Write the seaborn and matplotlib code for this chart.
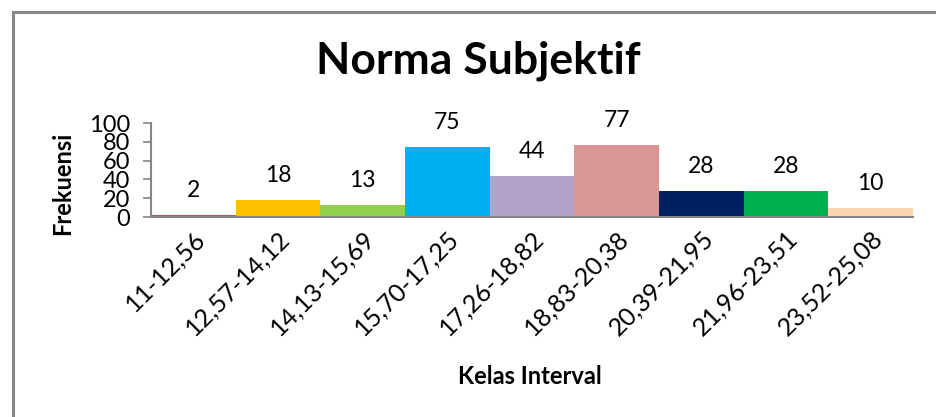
import matplotlib
matplotlib.use("Agg")
import matplotlib.pyplot as plt
import seaborn as sns
import pandas as pd
from matplotlib.patches import Rectangle

# data
kelas = ["11-12,56", "12,57-14,12", "14,13-15,69", "15,70-17,25", "17,26-18,82",
         "18,83-20,38", "20,39-21,95", "21,96-23,51", "23,52-25,08"]
frekuensi = [2, 18, 13, 75, 44, 77, 28, 28, 10]
warna = ["#C0504D", "#FFC000", "#92D050", "#00B0F0", "#B3A2C7",
         "#D99694", "#002060", "#00B050", "#FCD5B5"]
y_ticks = [0, 20, 40, 60, 80, 100]

df = pd.DataFrame({"kelas": kelas, "frekuensi": frekuensi})

sns.set_style("white")
plt.rcParams["font.family"] = ["Lato", "DejaVu Sans"]

fig = plt.figure(figsize=(9.36, 4.17), dpi=100)
ax = fig.add_axes([0.1613, 0.4796, 0.9754 - 0.1613, 0.705 - 0.4796])

sns.barplot(data=df, x="kelas", y="frekuensi", hue="kelas", palette=warna,
            width=1.0, legend=False, saturation=1, linewidth=0, ax=ax)

for cont in ax.containers:
    ax.bar_label(cont, padding=10, fontsize=16.5, color="black")

ax.set_xlim(-0.5, len(kelas) - 0.5)
ax.set_ylim(0, 100)
ax.set_yticks(y_ticks)
ax.tick_params(axis="y", labelsize=17, length=6, width=1.2, color="#868686",
               pad=9, direction="out", left=True, labelcolor="black")
ax.tick_params(axis="x", length=0, labelsize=18, pad=7, labelcolor="black")
plt.setp(ax.get_xticklabels(), rotation=45, ha="right", rotation_mode="anchor")

for s in ["top", "right"]:
    ax.spines[s].set_visible(False)
for s in ["left", "bottom"]:
    ax.spines[s].set_color("#868686")
    ax.spines[s].set_linewidth(1.5)

ax.set_xlabel("Kelas Interval", fontsize=17, fontweight="bold", color="black")
ax.xaxis.set_label_coords(0.497, -1.70)
ax.xaxis.label.set_va("center")
ax.set_ylabel("Frekuensi", fontsize=17, fontweight="bold", color="black")
ax.yaxis.set_label_coords(-0.1155, 0.36)
ax.yaxis.label.set_va("center")

fig.text(0.511, 0.855, "Norma Subjektif", fontsize=32, fontweight="bold",
         ha="center", va="center", color="black")

# chart frame
fig.patches.append(Rectangle((12.5 / 936, -0.05), 1.2, 1 - 11.5 / 417 + 0.05,
                             transform=fig.transFigure, fill=False,
                             edgecolor="#888888", linewidth=2.2))

fig.savefig("out.png", dpi=100)
